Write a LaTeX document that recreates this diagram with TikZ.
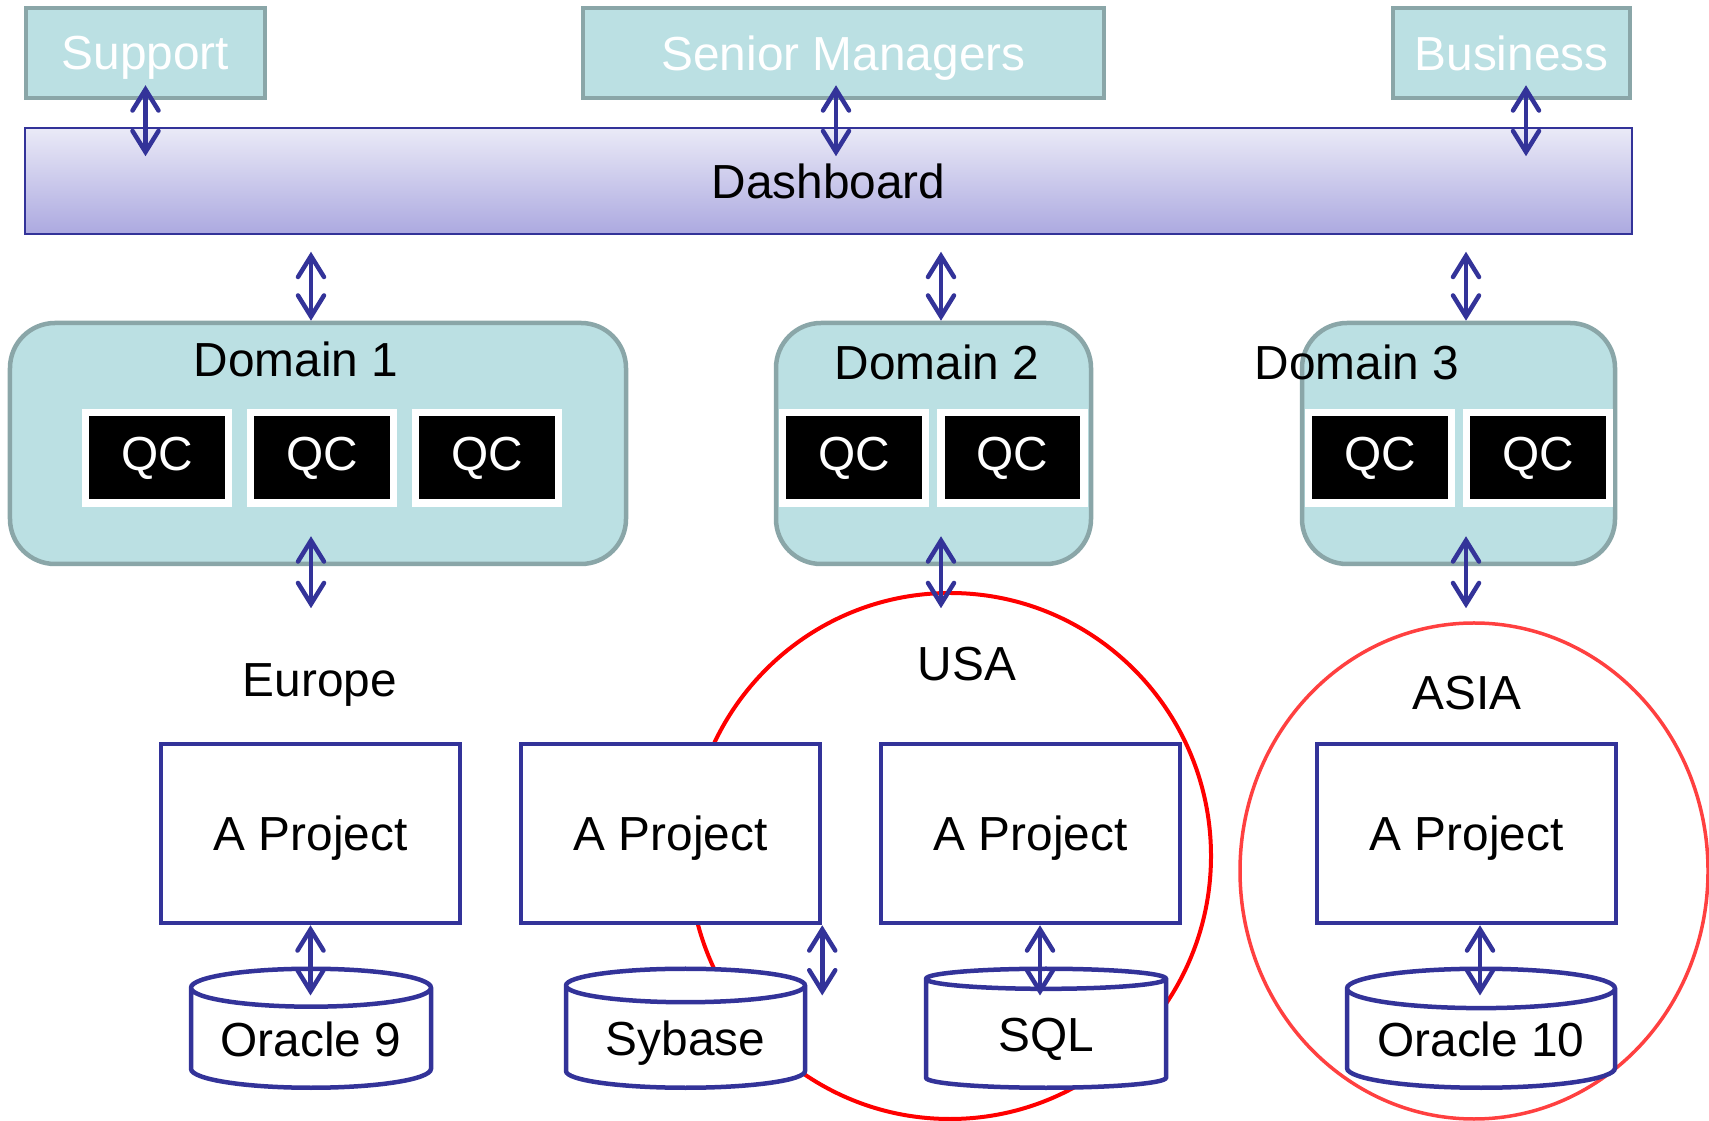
\documentclass[tikz,border=0pt]{standalone}
\usepackage{fontspec}
\setmainfont{Liberation Sans}
\usetikzlibrary{arrows.meta,calc,positioning,shapes.geometric}
\definecolor{tealfill}{RGB}{187,224,227}
\definecolor{tealline}{RGB}{138,166,168}
\definecolor{dblue}{RGB}{51,51,153}
\definecolor{dashtop}{RGB}{234,234,247}
\definecolor{dashbot}{RGB}{172,169,224}
\tikzset{
  topbox/.style={draw=tealline, fill=tealfill, line width=0.045cm, text=white,
    minimum height=0.90cm, inner sep=0pt, text depth=0pt},
  dombox/.style={draw=tealline, fill=tealfill, line width=0.045cm, rounded corners=0.45cm,
    minimum height=2.41cm, inner sep=0pt},
  qcbox/.style={draw=white, fill=black, text=white, line width=0.075cm,
    minimum width=1.43cm, minimum height=0.905cm, inner sep=0pt},
  projbox/.style={draw=dblue, fill=white, line width=0.045cm,
    minimum width=2.99cm, minimum height=1.79cm, inner sep=0pt, text depth=0pt},
  dbase/.style={cylinder, shape border rotate=90, aspect=0.21, draw=dblue, fill=white,
    line width=0.045cm, minimum height=1.19cm, inner sep=0pt,
    text height=0.35cm, text depth=0pt, anchor=south},
  dblarrow/.style={dblue, line width=0.045cm,
    {Straight Barb[length=0.21cm,width=0.26cm,line cap=round]}-{Straight Barb[length=0.21cm,width=0.26cm,line cap=round]}},
}
\begin{document}
\begin{tikzpicture}[font=\fontsize{13.6pt}{16pt}\selectfont]
    \useasboundingbox (0,0) rectangle (17.09,-11.21);
    %% Regions
    \draw[red, line width=0.04cm] (9.50,-8.56) ellipse [x radius=2.61cm, y radius=2.63cm];
    \draw[red!75, line width=0.035cm] (14.74,-8.71) ellipse [x radius=2.34cm, y radius=2.48cm];
    %% Top row and dashboard
    \node[topbox, minimum width=2.39cm] (support) at (1.455,-0.53) {Support};
    \node[topbox, minimum width=5.21cm] (senior) at (8.435,-0.53) {Senior Managers};
    \node[topbox, minimum width=2.37cm] (business) at (15.115,-0.53) {Business};
    \node[draw=dblue, line width=0.015cm, top color=dashtop, bottom color=dashbot,
      minimum width=16.07cm, minimum height=1.06cm, inner sep=0pt] (dash) at (8.285,-1.81) {Dashboard};
    %% Domains
    \node[dombox, minimum width=6.16cm] (dom1) at (3.18,-4.435) {};
    \node[dombox, minimum width=3.15cm] (dom2) at (9.335,-4.435) {};
    \node[dombox, minimum width=3.13cm] (dom3) at (14.585,-4.435) {};
    \node[anchor=base] (dom1lbl) at (2.96,-3.77) {Domain 1};
    \node[anchor=base] (dom2lbl) at (9.37,-3.80) {Domain 2};
    \node[anchor=base] (dom3lbl) at (13.57,-3.80) {Domain 3};
    \node[qcbox] (qc11) at (1.57,-4.58) {QC};
    \node[qcbox] (qc12) at (3.22,-4.58) {QC};
    \node[qcbox] (qc13) at (4.87,-4.58) {QC};
    \node[qcbox] (qc21) at (8.54,-4.58) {QC};
    \node[qcbox] (qc22) at (10.125,-4.58) {QC};
    \node[qcbox] (qc31) at (13.80,-4.58) {QC};
    \node[qcbox] (qc32) at (15.38,-4.58) {QC};
    %% Locations
    \node[anchor=base] (europe) at (3.20,-6.97) {Europe};
    \node[anchor=base] (usa) at (9.67,-6.81) {USA};
    \node[anchor=base] (asia) at (14.67,-7.10) {ASIA};
    %% Projects and databases
    \node[projbox] (proj1) at (3.105,-8.335) {A Project};
    \node[projbox] (proj2) at (6.705,-8.335) {A Project};
    \node[projbox] (proj3) at (10.305,-8.335) {A Project};
    \node[projbox] (proj4) at (14.665,-8.335) {A Project};
    \node[dbase, minimum width=2.40cm] (ora9) at (3.11,-10.90) {Oracle 9};
    \node[dbase, minimum width=2.39cm] (syb) at (6.855,-10.90) {Sybase};
    \node[dbase, minimum width=2.40cm] (sql) at (10.46,-10.90) {SQL};
    \node[dbase, minimum width=2.68cm, aspect=0.19] (ora10) at (14.81,-10.90) {Oracle 10};
    %% Arrows
    \draw[dblarrow] ([yshift=0.15cm]support.south) -- ([yshift=-0.29cm]support.south |- dash.north);
    \draw[dblarrow] ([xshift=-0.075cm,yshift=0.15cm]senior.south) -- ([xshift=-0.075cm,yshift=-0.29cm]senior.south |- dash.north);
    \draw[dblarrow] ([xshift=0.145cm,yshift=0.15cm]business.south) -- ([xshift=0.145cm,yshift=-0.29cm]business.south |- dash.north);
    \draw[dblarrow] ([xshift=-0.07cm,yshift=-0.17cm]dash.south -| dom1.north) -- ([xshift=-0.07cm]dom1.north);
    \draw[dblarrow] ([xshift=0.075cm,yshift=-0.17cm]dash.south -| dom2.north) -- ([xshift=0.075cm]dom2.north);
    \draw[dblarrow] ([xshift=0.075cm,yshift=-0.17cm]dash.south -| dom3.north) -- ([xshift=0.075cm]dom3.north);
    \draw[dblarrow] ([xshift=-0.07cm,yshift=0.30cm]dom1.south) -- ([xshift=-0.07cm,yshift=-0.42cm]dom1.south);
    \draw[dblarrow] ([xshift=0.075cm,yshift=0.30cm]dom2.south) -- ([xshift=0.075cm,yshift=-0.42cm]dom2.south);
    \draw[dblarrow] ([xshift=0.075cm,yshift=0.30cm]dom3.south) -- ([xshift=0.075cm,yshift=-0.42cm]dom3.south);
    \draw[dblarrow] (proj1.south) -- ([yshift=-0.29cm]proj1.south |- ora9.north);
    \draw[dblarrow] (proj2.south east) -- ([yshift=-0.29cm]proj2.south east |- syb.north);
    \draw[dblarrow] ([xshift=-0.06cm]sql.north |- proj3.south) -- ([xshift=-0.06cm,yshift=-0.29cm]sql.north);
    \draw[dblarrow] ([xshift=-0.01cm]ora10.north |- proj4.south) -- ([xshift=-0.01cm,yshift=-0.29cm]ora10.north);
\end{tikzpicture}
\end{document}
